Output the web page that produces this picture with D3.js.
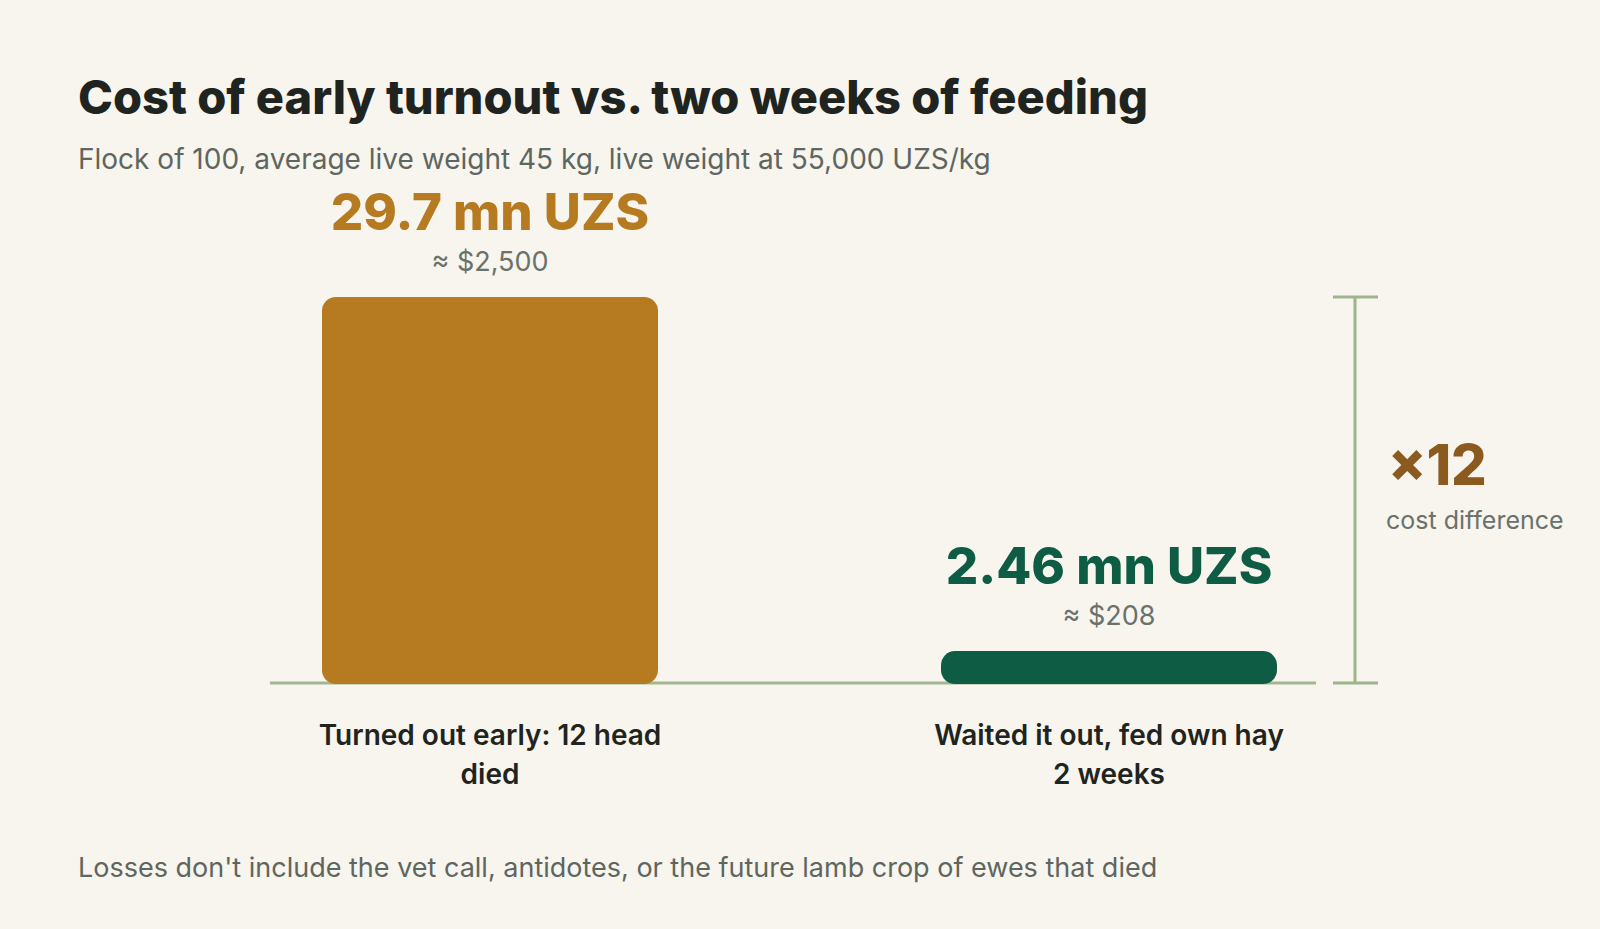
<!DOCTYPE html>
<meta charset="utf-8">
<body style="margin:0;background:#f7f5ee">
<script src="https://cdn.jsdelivr.net/npm/d3@7"></script>
<svg id="chart" width="1600" height="929"></svg>
<script>
var categories = ["Turned out early: 12 head|died", "Waited it out, fed own hay|2 weeks"];
var valuesMn = [29.7, 2.46];
var valueLabels = ["29.7 mn UZS", "2.46 mn UZS"];
var usdLabels = ["≈ $2,500", "≈ $208"];
var colors = ["#b67a20", "#0f5c45"];

var svg = d3.select("#chart").style("font-family", "Inter, 'Noto Sans', sans-serif");
svg.append("rect").attr("width", 1600).attr("height", 929).attr("fill", "#f7f5ee");

svg.append("text").attr("x", 78).attr("y", 114).attr("font-size", 47).attr("font-weight", 800)
  .attr("fill", "#1f2420").text("Cost of early turnout vs. two weeks of feeding");
svg.append("text").attr("x", 78).attr("y", 169).attr("font-size", 28).attr("fill", "#5e665f")
  .text("Flock of 100, average live weight 45 kg, live weight at 55,000 UZS/kg");

var baseY = 683;
var x = d3.scaleBand().domain(d3.range(categories.length)).range([322 - 0.3 * 336 / 0.7 * 0.5, 1278 + 0.3 * 336 / 0.7 * 0.5]).paddingInner(0.44).paddingOuter(0);
x = d3.scaleOrdinal().domain([0, 1]).range([322, 941]);
var bw = 336;
var y = d3.scaleLinear().domain([0, valuesMn[0]]).range([baseY, 297]);

svg.append("line").attr("x1", 270).attr("x2", 1316).attr("y1", baseY).attr("y2", baseY)
  .attr("stroke", "#a3b890").attr("stroke-width", 3);

var g = svg.selectAll("g.bar").data(valuesMn).enter().append("g");
g.append("rect").attr("x", (d, i) => x(i)).attr("width", bw)
  .attr("y", d => y(d)).attr("height", d => baseY - y(d) + 1)
  .attr("rx", d => Math.min(14, (baseY - y(d)) / 2)).attr("fill", (d, i) => colors[i]);
g.append("text").attr("x", (d, i) => x(i) + bw / 2).attr("y", d => y(d) - 67)
  .attr("text-anchor", "middle").attr("font-size", 51).attr("font-weight", 800)
  .attr("fill", (d, i) => colors[i]).text((d, i) => valueLabels[i]);
g.append("text").attr("x", (d, i) => x(i) + bw / 2).attr("y", d => y(d) - 26)
  .attr("text-anchor", "middle").attr("font-size", 27).attr("fill", "#6b716b").text((d, i) => usdLabels[i]);
g.each(function (d, i) {
  categories[i].split("|").forEach(function (t, j) {
    d3.select(this).append("text").attr("x", x(i) + bw / 2).attr("y", 745 + j * 39)
      .attr("text-anchor", "middle").attr("font-size", 28).attr("font-weight", 600)
      .attr("fill", "#1f2420").text(t);
  }, this);
});

var bc = "#9fb48c";
svg.append("line").attr("x1", 1355).attr("x2", 1355).attr("y1", y(valuesMn[0])).attr("y2", baseY).attr("stroke", bc).attr("stroke-width", 3);
[y(valuesMn[0]), baseY].forEach(function (yy) {
  svg.append("line").attr("x1", 1333).attr("x2", 1378).attr("y1", yy).attr("y2", yy).attr("stroke", bc).attr("stroke-width", 3);
});
svg.append("text").attr("x", 1388).attr("y", 485).attr("font-size", 56).attr("font-weight", 800)
  .attr("fill", "#8a5a1e").text("×" + Math.round(valuesMn[0] / valuesMn[1]));
svg.append("text").attr("x", 1386).attr("y", 529).attr("font-size", 25).attr("fill", "#6b716b").text("cost difference");

svg.append("text").attr("x", 78).attr("y", 877).attr("font-size", 27).attr("fill", "#5e665f")
  .text("Losses don't include the vet call, antidotes, or the future lamb crop of ewes that died");
</script>
</body>
